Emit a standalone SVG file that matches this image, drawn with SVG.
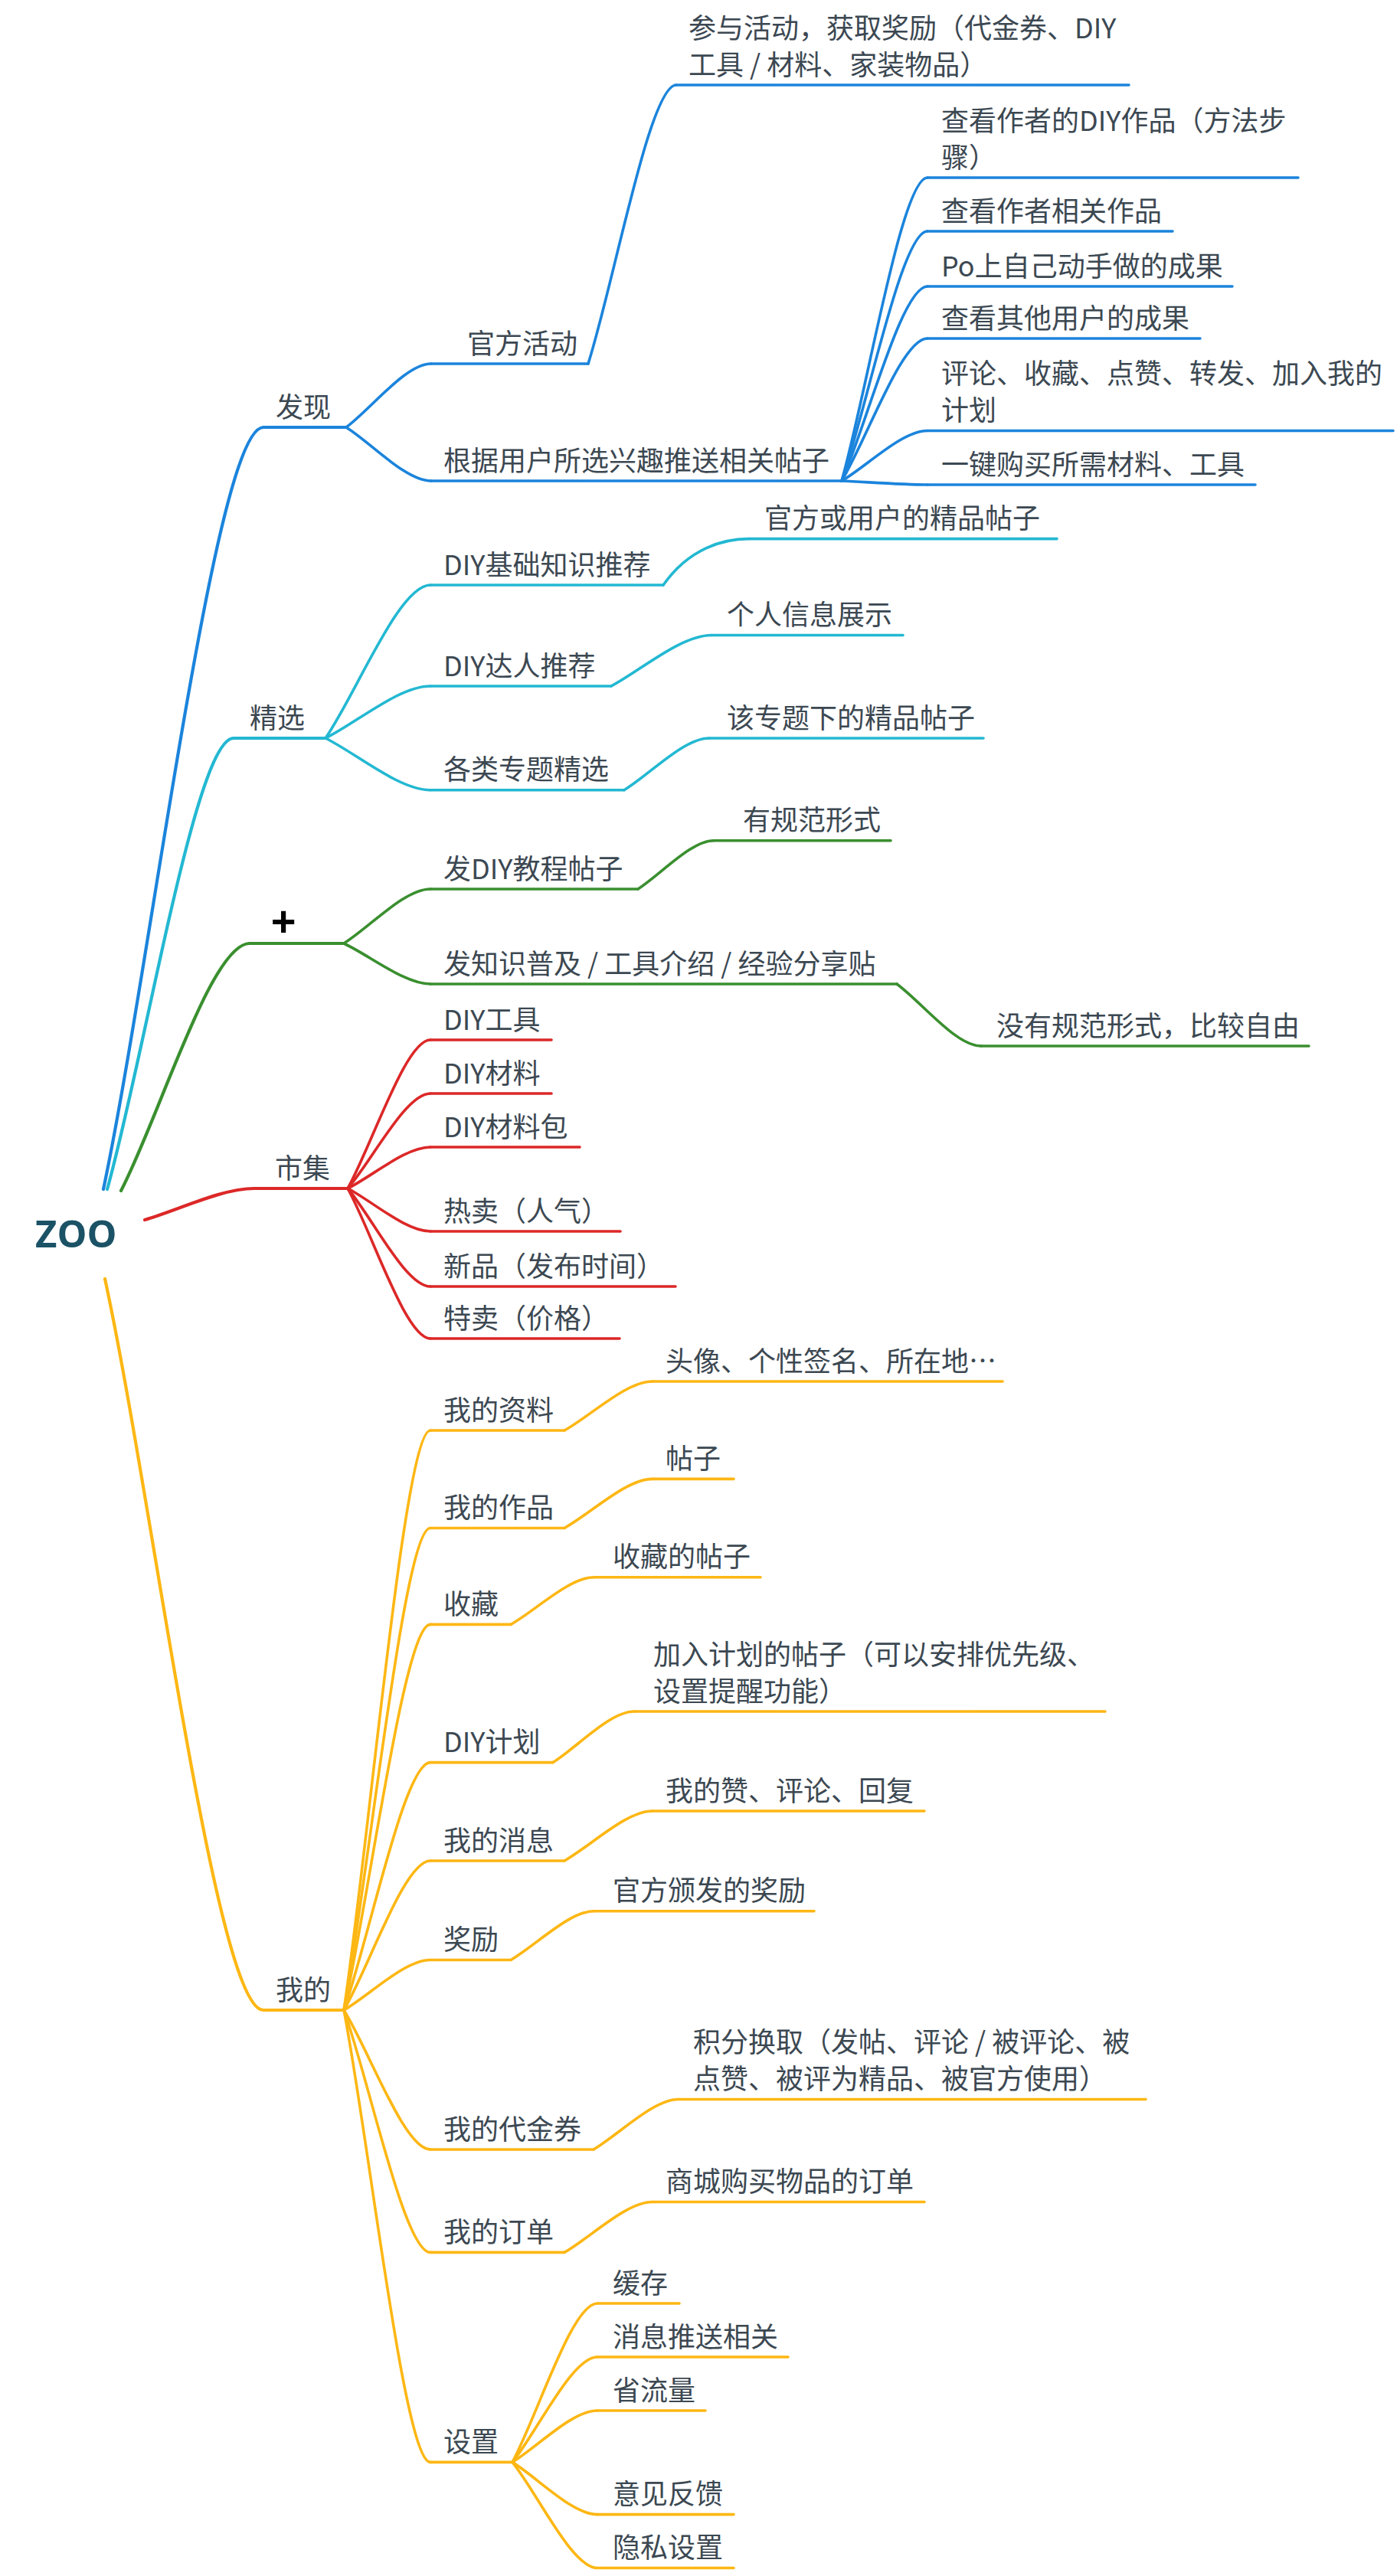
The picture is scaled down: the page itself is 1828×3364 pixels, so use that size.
<svg xmlns="http://www.w3.org/2000/svg" width="1828" height="3364" viewBox="0 0 1828 3364">
<style>
.t{font-family:"Noto Sans CJK SC","Noto Sans",sans-serif;font-size:36px;fill:#3c4852}
.root{font-family:"Open Sans","DejaVu Sans",sans-serif;font-size:49px;font-weight:bold;fill:#1b5266}
.plus{font-family:"Liberation Sans",sans-serif;font-size:56px;font-weight:bold;fill:#000}
path,line{fill:none;stroke-width:3.6;stroke-linecap:round}
.b{stroke:#1b84dc}.c{stroke:#23b8d2}.g{stroke:#3a8f2f}.r{stroke:#dc2828}.y{stroke:#fdb714}
.m{stroke-width:4.2}
</style>
<rect width="1828" height="3364" fill="#fff"/>
<g id="connectors">
<path class="b m" d="M135 1553C197.7 1254.5 281.3 558 344 558"/>
<path class="c m" d="M140 1553C189.5 1376.3 255.5 964 305 964"/>
<path class="g m" d="M158 1555C208.4 1458.1 275.6 1232 326 1232"/>
<path class="r m" d="M189 1593C231.9 1580.7 289.1 1552 332 1552"/>
<path class="y m" d="M137 1670C199.1 1956.5 281.9 2625 344 2625"/>
<path class="b" d="M452 558C485.3 533.1 529.7 475 563 475"/>
<path class="b" d="M452 558C485.3 579 529.7 628 563 628"/>
<path class="b" d="M768 475C802.5 365.8 848.5 111 883 111"/>
<path class="b" d="M1099 628C1132.6 509.2 1177.4 232 1211 232"/>
<path class="b" d="M1099 628C1132.6 530.2 1177.4 302 1211 302"/>
<path class="b" d="M1099 628C1132.6 551.8 1177.4 374 1211 374"/>
<path class="b" d="M1099 628C1132.6 572.2 1177.4 442 1211 442"/>
<path class="b" d="M1099 628C1132.6 608.4 1177.4 562.5 1211 562.5"/>
<path class="b" d="M1099 628C1132.6 629.5 1177.4 633 1211 633"/>
<path class="c" d="M425 964C466.1 904 520.9 764 562 764"/>
<path class="c" d="M425 964C466.1 943.6 520.9 896 562 896"/>
<path class="c" d="M425 964C466.1 984.3 520.9 1031.7 562 1031.7"/>
<path class="c" d="M866 764C899.6 715.9 944.4 703.6 978 703.6"/>
<path class="c" d="M798 896C835.9 876 889.1 829.5 929 829.5"/>
<path class="c" d="M815 1031.7C848.3 1011.4 892.7 964 926 964"/>
<path class="g" d="M449 1232C482.9 1210.7 528.1 1161 562 1161"/>
<path class="g" d="M449 1232C482.9 1247.9 528.1 1285 562 1285"/>
<path class="g" d="M833 1161C862.7 1142 902.3 1097.7 932 1097.7"/>
<path class="g" d="M1171 1285C1204 1309.3 1248 1366 1281 1366"/>
<path class="r" d="M454 1552C486.4 1493.8 529.6 1358 562 1358"/>
<path class="r" d="M454 1552C486.4 1514.8 529.6 1428 562 1428"/>
<path class="r" d="M454 1552C486.4 1535.8 529.6 1498 562 1498"/>
<path class="r" d="M454 1552C486.4 1568.8 529.6 1608 562 1608"/>
<path class="r" d="M454 1552C486.4 1590.4 529.6 1680 562 1680"/>
<path class="r" d="M454 1552C486.4 1610.8 529.6 1748 562 1748"/>
<path class="y" d="M449 2625C482.9 2397.9 528.1 1868 562 1868"/>
<path class="y" d="M449 2625C482.9 2436.2 528.1 1995.5 562 1995.5"/>
<path class="y" d="M449 2625C482.9 2473.9 528.1 2121.4 562 2121.4"/>
<path class="y" d="M449 2625C482.9 2528 528.1 2301.6 562 2301.6"/>
<path class="y" d="M449 2625C482.9 2566.5 528.1 2430 562 2430"/>
<path class="y" d="M449 2625C482.9 2605.4 528.1 2559.5 562 2559.5"/>
<path class="y" d="M449 2625C482.9 2679.6 528.1 2807 562 2807"/>
<path class="y" d="M449 2625C482.9 2719.9 528.1 2941.4 562 2941.4"/>
<path class="y" d="M449 2625C482.9 2802.1 528.1 3215.4 562 3215.4"/>
<path class="y" d="M737 1868C771.5 1848.8 817.5 1804 852 1804"/>
<path class="y" d="M737 1995.5C771.5 1976.3 817.5 1931.4 852 1931.4"/>
<path class="y" d="M667 2121.4C699.7 2102.9 743.3 2059.7 776 2059.7"/>
<path class="y" d="M722 2301.6C753.8 2281.6 796.2 2235 828 2235"/>
<path class="y" d="M737 2430C771.5 2410.5 817.5 2365 852 2365"/>
<path class="y" d="M667 2559.5C699.7 2540.4 743.3 2495.7 776 2495.7"/>
<path class="y" d="M775 2807C808.3 2787.4 852.7 2741.5 886 2741.5"/>
<path class="y" d="M737 2941.4C771.5 2921.6 817.5 2875.5 852 2875.5"/>
<path class="y" d="M669 3215.4C702.3 3153.2 746.7 3008 780 3008"/>
<path class="y" d="M669 3215.4C702.3 3174.2 746.7 3078 780 3078"/>
<path class="y" d="M669 3215.4C702.3 3195.2 746.7 3148 780 3148"/>
<path class="y" d="M669 3215.4C702.3 3235.9 746.7 3283.6 780 3283.6"/>
<path class="y" d="M669 3215.4C702.3 3256.8 746.7 3353.5 780 3353.5"/>
</g>
<g id="root"><text class="root" x="46" y="1629">ZOO</text></g>
<g id="n-faxian"><line class="b m" x1="344" y1="558" x2="452" y2="558"/><text class="t" x="360" y="545">发现</text></g>
<g id="n-guanfanghuodong"><line class="b" x1="563" y1="475" x2="768" y2="475"/><text class="t" x="610" y="462">官方活动</text></g>
<g id="n-canyu"><line class="b" x1="883" y1="111" x2="1474" y2="111"/><text class="t" x="899" y="50">参与活动，获取奖励（代金券、DIY</text><text class="t" x="899" y="98">工具 / 材料、家装物品）</text></g>
<g id="n-genju"><line class="b" x1="563" y1="628" x2="1099" y2="628"/><text class="t" x="579" y="615">根据用户所选兴趣推送相关帖子</text></g>
<g id="n-b1"><line class="b" x1="1211" y1="232" x2="1695" y2="232"/><text class="t" x="1229" y="171">查看作者的DIY作品（方法步</text><text class="t" x="1229" y="219">骤）</text></g>
<g id="n-b2"><line class="b" x1="1211" y1="302" x2="1531" y2="302"/><text class="t" x="1229" y="289">查看作者相关作品</text></g>
<g id="n-b3"><line class="b" x1="1211" y1="374" x2="1609" y2="374"/><text class="t" x="1229" y="361">Po上自己动手做的成果</text></g>
<g id="n-b4"><line class="b" x1="1211" y1="442" x2="1567" y2="442"/><text class="t" x="1229" y="429">查看其他用户的成果</text></g>
<g id="n-b5"><line class="b" x1="1211" y1="562.5" x2="1819" y2="562.5"/><text class="t" x="1229" y="501">评论、收藏、点赞、转发、加入我的</text><text class="t" x="1229" y="549">计划</text></g>
<g id="n-b6"><line class="b" x1="1211" y1="633" x2="1639" y2="633"/><text class="t" x="1229" y="620">一键购买所需材料、工具</text></g>
<g id="n-jingxuan"><line class="c m" x1="305" y1="964" x2="425" y2="964"/><text class="t" x="326" y="951">精选</text></g>
<g id="n-c1"><line class="c" x1="562" y1="764" x2="866" y2="764"/><text class="t" x="579" y="751">DIY基础知识推荐</text></g>
<g id="n-c1a"><line class="c" x1="978" y1="703.6" x2="1380" y2="703.6"/><text class="t" x="998" y="690">官方或用户的精品帖子</text></g>
<g id="n-c2"><line class="c" x1="562" y1="896" x2="798" y2="896"/><text class="t" x="579" y="883">DIY达人推荐</text></g>
<g id="n-c2a"><line class="c" x1="929" y1="829.5" x2="1179" y2="829.5"/><text class="t" x="949" y="816">个人信息展示</text></g>
<g id="n-c3"><line class="c" x1="562" y1="1031.7" x2="815" y2="1031.7"/><text class="t" x="579" y="1018">各类专题精选</text></g>
<g id="n-c3a"><line class="c" x1="926" y1="964" x2="1284" y2="964"/><text class="t" x="949" y="951">该专题下的精品帖子</text></g>
<g id="n-plus"><line class="g m" x1="326" y1="1232" x2="449" y2="1232"/><text class="plus" x="370" y="1222" text-anchor="middle">+</text></g>
<g id="n-g1"><line class="g" x1="562" y1="1161" x2="833" y2="1161"/><text class="t" x="579" y="1148">发DIY教程帖子</text></g>
<g id="n-g1a"><line class="g" x1="932" y1="1097.7" x2="1163" y2="1097.7"/><text class="t" x="970" y="1084">有规范形式</text></g>
<g id="n-g2"><line class="g" x1="562" y1="1285" x2="1171" y2="1285"/><text class="t" x="579" y="1272">发知识普及 / 工具介绍 / 经验分享贴</text></g>
<g id="n-g2a"><line class="g" x1="1281" y1="1366" x2="1709" y2="1366"/><text class="t" x="1301" y="1353">没有规范形式，比较自由</text></g>
<g id="n-shiji"><line class="r m" x1="332" y1="1552" x2="454" y2="1552"/><text class="t" x="359" y="1539">市集</text></g>
<g id="n-r1"><line class="r" x1="562" y1="1358" x2="720" y2="1358"/><text class="t" x="579" y="1345">DIY工具</text></g>
<g id="n-r2"><line class="r" x1="562" y1="1428" x2="720" y2="1428"/><text class="t" x="579" y="1415">DIY材料</text></g>
<g id="n-r3"><line class="r" x1="562" y1="1498" x2="757" y2="1498"/><text class="t" x="579" y="1485">DIY材料包</text></g>
<g id="n-r4"><line class="r" x1="562" y1="1608" x2="810" y2="1608"/><text class="t" x="579" y="1595">热卖（人气）</text></g>
<g id="n-r5"><line class="r" x1="562" y1="1680" x2="882" y2="1680"/><text class="t" x="579" y="1667">新品（发布时间）</text></g>
<g id="n-r6"><line class="r" x1="562" y1="1748" x2="809" y2="1748"/><text class="t" x="579" y="1735">特卖（价格）</text></g>
<g id="n-wode"><line class="y m" x1="344" y1="2625" x2="449" y2="2625"/><text class="t" x="360" y="2612">我的</text></g>
<g id="n-y1"><line class="y" x1="562" y1="1868" x2="737" y2="1868"/><text class="t" x="579" y="1855">我的资料</text></g>
<g id="n-y1a"><line class="y" x1="852" y1="1804" x2="1309" y2="1804"/><text class="t" x="869" y="1791">头像、个性签名、所在地…</text></g>
<g id="n-y2"><line class="y" x1="562" y1="1995.5" x2="737" y2="1995.5"/><text class="t" x="579" y="1982">我的作品</text></g>
<g id="n-y2a"><line class="y" x1="852" y1="1931.4" x2="958" y2="1931.4"/><text class="t" x="869" y="1918">帖子</text></g>
<g id="n-y3"><line class="y" x1="562" y1="2121.4" x2="667" y2="2121.4"/><text class="t" x="579" y="2108">收藏</text></g>
<g id="n-y3a"><line class="y" x1="776" y1="2059.7" x2="993" y2="2059.7"/><text class="t" x="800" y="2046">收藏的帖子</text></g>
<g id="n-y4"><line class="y" x1="562" y1="2301.6" x2="722" y2="2301.6"/><text class="t" x="579" y="2288">DIY计划</text></g>
<g id="n-y4a"><line class="y" x1="828" y1="2235" x2="1443" y2="2235"/><text class="t" x="853" y="2174">加入计划的帖子（可以安排优先级、</text><text class="t" x="853" y="2222">设置提醒功能）</text></g>
<g id="n-y5"><line class="y" x1="562" y1="2430" x2="737" y2="2430"/><text class="t" x="579" y="2417">我的消息</text></g>
<g id="n-y5a"><line class="y" x1="852" y1="2365" x2="1207" y2="2365"/><text class="t" x="869" y="2352">我的赞、评论、回复</text></g>
<g id="n-y6"><line class="y" x1="562" y1="2559.5" x2="667" y2="2559.5"/><text class="t" x="579" y="2546">奖励</text></g>
<g id="n-y6a"><line class="y" x1="776" y1="2495.7" x2="1063" y2="2495.7"/><text class="t" x="800" y="2482">官方颁发的奖励</text></g>
<g id="n-y7"><line class="y" x1="562" y1="2807" x2="775" y2="2807"/><text class="t" x="579" y="2794">我的代金券</text></g>
<g id="n-y7a"><line class="y" x1="886" y1="2741.5" x2="1496" y2="2741.5"/><text class="t" x="905" y="2680">积分换取（发帖、评论 / 被评论、被</text><text class="t" x="905" y="2728">点赞、被评为精品、被官方使用）</text></g>
<g id="n-y8"><line class="y" x1="562" y1="2941.4" x2="737" y2="2941.4"/><text class="t" x="579" y="2928">我的订单</text></g>
<g id="n-y8a"><line class="y" x1="852" y1="2875.5" x2="1207" y2="2875.5"/><text class="t" x="869" y="2862">商城购买物品的订单</text></g>
<g id="n-y9"><line class="y" x1="562" y1="3215.4" x2="669" y2="3215.4"/><text class="t" x="579" y="3202">设置</text></g>
<g id="n-y9a"><line class="y" x1="780" y1="3008" x2="887" y2="3008"/><text class="t" x="800" y="2995">缓存</text></g>
<g id="n-y9b"><line class="y" x1="780" y1="3078" x2="1029" y2="3078"/><text class="t" x="800" y="3065">消息推送相关</text></g>
<g id="n-y9c"><line class="y" x1="780" y1="3148" x2="921" y2="3148"/><text class="t" x="800" y="3135">省流量</text></g>
<g id="n-y9d"><line class="y" x1="780" y1="3283.6" x2="958" y2="3283.6"/><text class="t" x="800" y="3270">意见反馈</text></g>
<g id="n-y9e"><line class="y" x1="780" y1="3353.5" x2="958" y2="3353.5"/><text class="t" x="800" y="3340">隐私设置</text></g>
</svg>
